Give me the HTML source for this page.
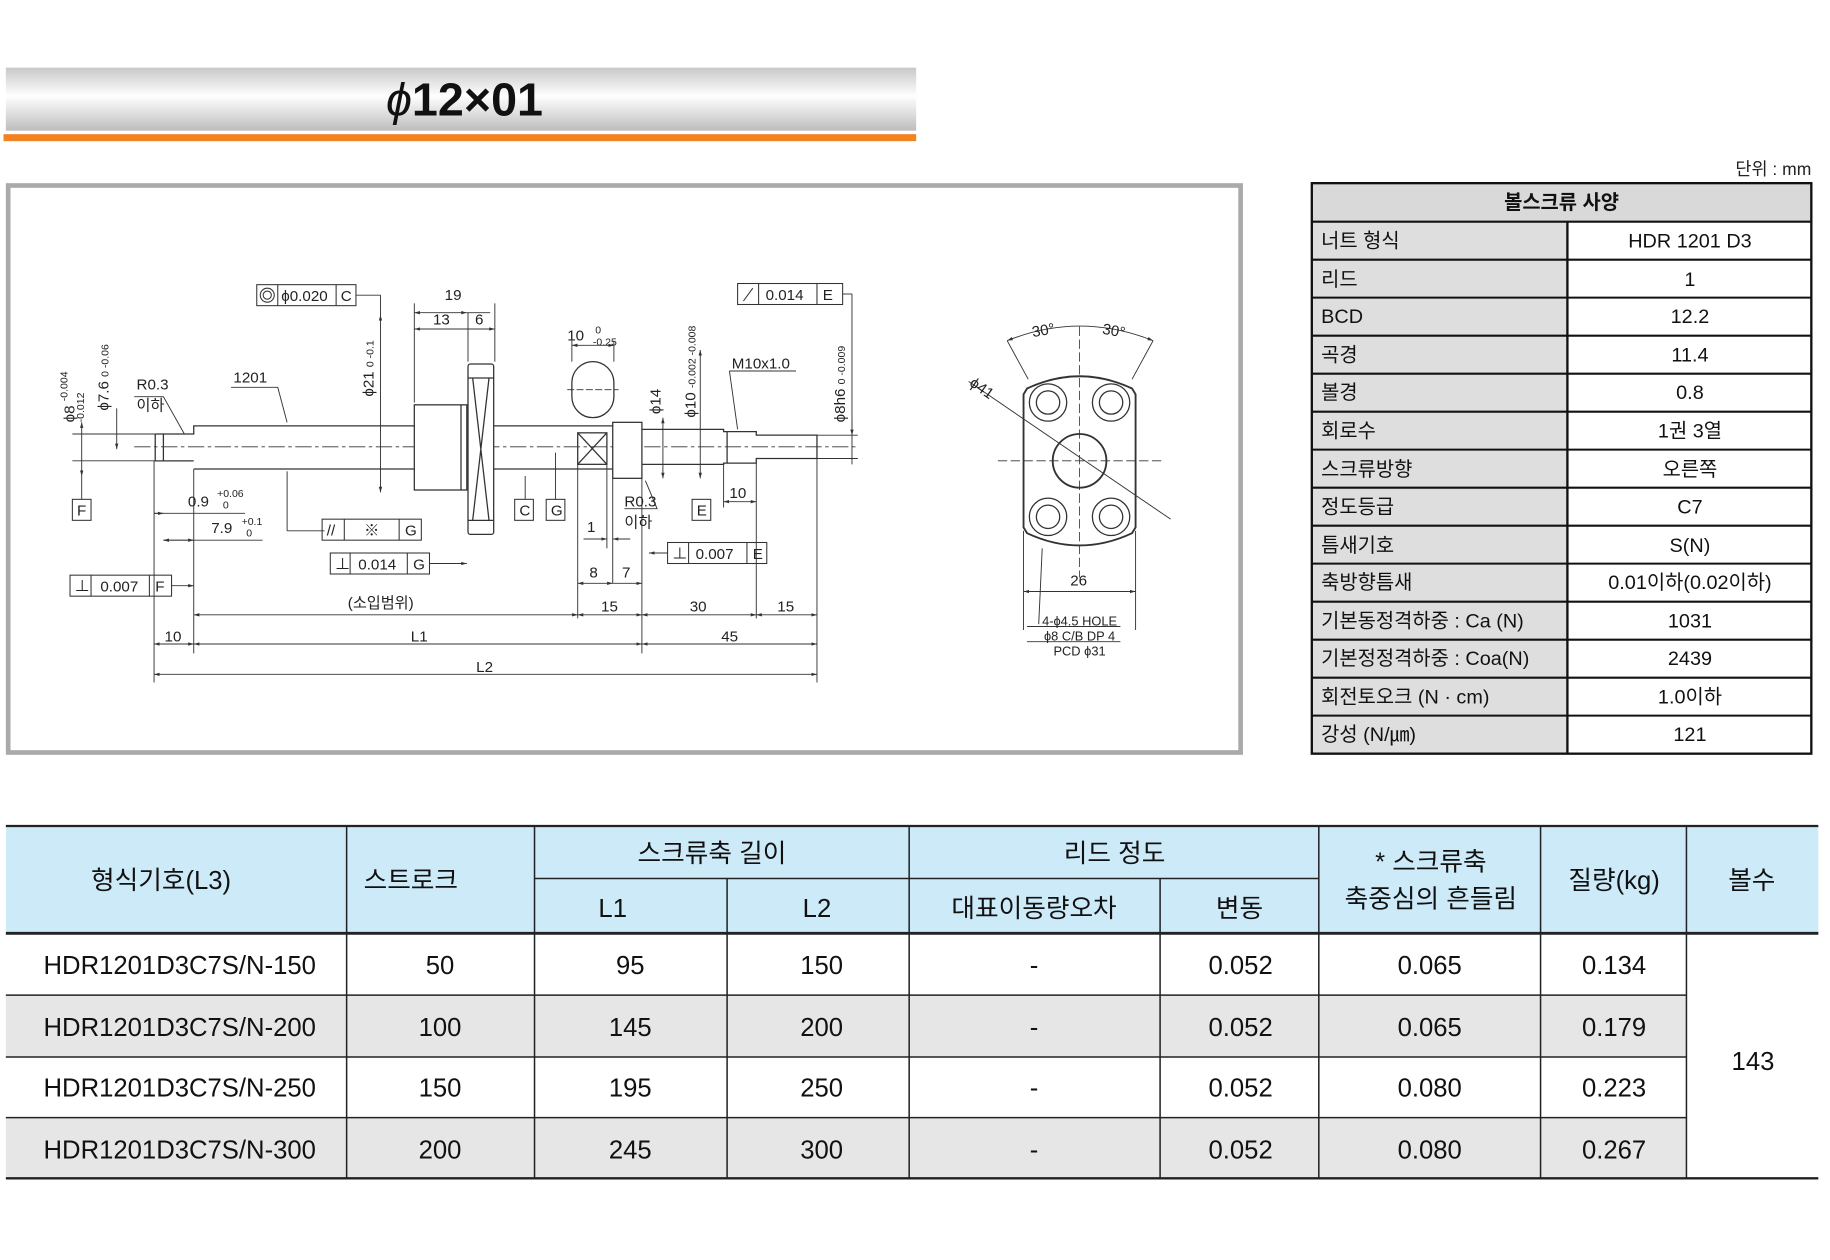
<!DOCTYPE html>
<html><head><meta charset="utf-8"><style>
html,body{margin:0;padding:0;background:#fff;}
svg{display:block;}
text{font-family:"Liberation Sans","Noto Sans CJK KR",sans-serif;}
</style></head><body>
<svg width="1830" height="1260" viewBox="0 0 1568 1080" preserveAspectRatio="none" xmlns="http://www.w3.org/2000/svg">
<defs>
<linearGradient id="tg" x1="0" y1="0" x2="0" y2="1">
<stop offset="0" stop-color="#c8c8c8"/><stop offset="0.45" stop-color="#ffffff"/><stop offset="1" stop-color="#bdbdbd"/>
</linearGradient>
<marker id="a" viewBox="0 0 10 10" refX="10" refY="5" markerWidth="6" markerHeight="6" orient="auto-start-reverse"><path d="M0,2 L10,5 L0,8z" fill="#333"/></marker>
</defs>
<!-- title -->
<rect x="5" y="58" width="780" height="54" fill="url(#tg)"/>
<rect x="3" y="115" width="782" height="6" fill="#f58220"/>
<text x="398" y="99" font-size="40" text-anchor="middle" fill="#111" font-weight="bold"><tspan font-style="italic" font-weight="normal">ϕ</tspan>12×01</text>
<text x="1552" y="150" font-size="15" text-anchor="end" fill="#222">단위 : mm</text>

<!-- drawing frame -->
<rect x="7" y="159" width="1056" height="486" fill="#fff" stroke="#aaa" stroke-width="4"/>

<g stroke="#333" stroke-width="1.1" fill="none">
<line x1="115" y1="383" x2="735" y2="383" stroke-dasharray="14,3,3,3" stroke-width="0.8"/>
<path d="M133,372 L166,372 L166,365 L355,365 M166,402 L355,402 M166,395 L133,395 L133,372" />
<line x1="140" y1="372" x2="140" y2="395"/>
<rect x="355" y="347" width="45" height="73" fill="#fff"/>
<line x1="395" y1="347" x2="395" y2="420"/>
<rect x="401" y="312" width="22" height="146" rx="2" fill="#fff"/>
<line x1="401" y1="324" x2="423" y2="324"/><line x1="401" y1="446" x2="423" y2="446"/>
<path d="M405,324 L419,446 M419,324 L405,446"/>
<path d="M423,365 L525,365 M423,402 L525,402"/>
<rect x="495" y="371" width="25" height="27"/>
<path d="M495,371 L520,398 M520,371 L495,398"/>
<rect x="525" y="362" width="25" height="48" fill="#fff"/>
<path d="M550,368 L620,368 L620,370 L648,370 L648,373 L700,373 L700,393 L648,393 L648,397 L620,397 L620,398 L550,398"/>
<line x1="623" y1="370" x2="623" y2="397"/>
<rect x="490" y="310" width="36" height="48" rx="18" fill="#fff"/>
<line x1="486" y1="334" x2="530" y2="334" stroke-dasharray="6,2" stroke-width="0.7"/>
<g stroke-width="0.8">
<line x1="355" y1="282" x2="424" y2="282" marker-start="url(#a)" marker-end="url(#a)"/>
<line x1="355" y1="260" x2="355" y2="345"/><line x1="424" y1="260" x2="424" y2="310"/>
<line x1="355" y1="268" x2="400" y2="268" marker-start="url(#a)" marker-end="url(#a)"/>
<line x1="400" y1="268" x2="420" y2="268"/><line x1="401" y1="268" x2="401" y2="310"/>
<line x1="326" y1="270" x2="326" y2="422" marker-start="url(#a)" marker-end="url(#a)"/>
<line x1="305" y1="253" x2="326" y2="253"/><line x1="326" y1="253" x2="326" y2="270"/>
<line x1="490" y1="296" x2="526" y2="296" marker-start="url(#a)" marker-end="url(#a)"/>
<line x1="490" y1="292" x2="490" y2="310"/><line x1="526" y1="292" x2="526" y2="310"/>
<line x1="568" y1="358" x2="568" y2="410" marker-start="url(#a)" marker-end="url(#a)"/>
<line x1="600" y1="300" x2="600" y2="410" marker-start="url(#a)" marker-end="url(#a)"/>
<line x1="722" y1="252" x2="730" y2="252"/><line x1="730" y1="252" x2="730" y2="398"/>
<line x1="700" y1="373" x2="735" y2="373"/><line x1="700" y1="393" x2="735" y2="393"/>
<line x1="730" y1="360" x2="730" y2="373" marker-end="url(#a)"/>
<path d="M625,318 L682,318 M625,318 L632,368"/>
<line x1="70" y1="362" x2="70" y2="408" marker-start="url(#a)" marker-end="url(#a)"/>
<line x1="62" y1="372" x2="133" y2="372"/><line x1="62" y1="395" x2="133" y2="395"/>
<line x1="70" y1="408" x2="70" y2="428"/>
<line x1="100" y1="350" x2="100" y2="385" marker-end="url(#a)"/>
<path d="M115,340 L140,340 L158,372"/>
<path d="M198,332 L238,332 L246,362"/>
<line x1="246" y1="404" x2="246" y2="455"/><line x1="246" y1="455" x2="278" y2="455"/>
<line x1="368" y1="483" x2="400" y2="483" marker-end="url(#a)"/>
<line x1="132" y1="440" x2="210" y2="440" /><line x1="132" y1="440" x2="140" y2="440" marker-end="url(#a)"/>
<line x1="140" y1="463" x2="225" y2="463"/><line x1="140" y1="463" x2="166" y2="463" marker-start="url(#a)" marker-end="url(#a)"/>
<line x1="132" y1="395" x2="132" y2="585"/><line x1="166" y1="402" x2="166" y2="560"/>
<line x1="147" y1="502" x2="166" y2="502" marker-end="url(#a)"/>
<line x1="700" y1="393" x2="700" y2="585"/>
<line x1="550" y1="410" x2="550" y2="560"/><line x1="495" y1="398" x2="495" y2="530"/>
<line x1="648" y1="397" x2="648" y2="530"/><line x1="520" y1="398" x2="520" y2="470"/><line x1="525" y1="410" x2="525" y2="500"/>
<line x1="166" y1="527" x2="495" y2="527" marker-start="url(#a)" marker-end="url(#a)"/>
<line x1="495" y1="527" x2="550" y2="527" marker-start="url(#a)" marker-end="url(#a)"/>
<line x1="550" y1="527" x2="648" y2="527" marker-start="url(#a)" marker-end="url(#a)"/>
<line x1="648" y1="527" x2="700" y2="527" marker-start="url(#a)" marker-end="url(#a)"/>
<line x1="132" y1="552" x2="166" y2="552" marker-start="url(#a)" marker-end="url(#a)"/>
<line x1="166" y1="552" x2="550" y2="552" marker-start="url(#a)" marker-end="url(#a)"/>
<line x1="550" y1="552" x2="700" y2="552" marker-start="url(#a)" marker-end="url(#a)"/>
<line x1="132" y1="578" x2="700" y2="578" marker-start="url(#a)" marker-end="url(#a)"/>
<line x1="495" y1="500" x2="525" y2="500" marker-start="url(#a)" marker-end="url(#a)"/>
<line x1="525" y1="500" x2="550" y2="500" marker-end="url(#a)"/>
<line x1="500" y1="462" x2="520" y2="462" marker-end="url(#a)"/><line x1="525" y1="462" x2="540" y2="462" marker-start="url(#a)"/>
<line x1="620" y1="430" x2="648" y2="430" marker-start="url(#a)" marker-end="url(#a)"/>
<line x1="620" y1="398" x2="620" y2="435"/>
<line x1="556" y1="474" x2="572" y2="474" marker-start="url(#a)"/>
<path d="M535,436 L563,436 L553,412"/>
<line x1="450" y1="408" x2="450" y2="428"/><line x1="476" y1="388" x2="476" y2="428"/>
</g>
<g stroke-width="0.9">
<rect x="220" y="244" width="85" height="18"/><line x1="238" y1="244" x2="238" y2="262"/><line x1="288" y1="244" x2="288" y2="262"/>
<circle cx="229" cy="253" r="6"/><circle cx="229" cy="253" r="3.5"/>
<rect x="632" y="243" width="90" height="18"/><line x1="650" y1="243" x2="650" y2="261"/><line x1="700" y1="243" x2="700" y2="261"/>
<line x1="637" y1="258" x2="645" y2="247"/>
<rect x="276" y="445" width="85" height="18"/><line x1="295" y1="445" x2="295" y2="463"/><line x1="342" y1="445" x2="342" y2="463"/>
<rect x="283" y="474" width="85" height="18"/><line x1="300" y1="474" x2="300" y2="492"/><line x1="349" y1="474" x2="349" y2="492"/>
<rect x="60" y="493" width="87" height="18"/><line x1="78" y1="493" x2="78" y2="511"/><line x1="128" y1="493" x2="128" y2="511"/>
<rect x="572" y="465" width="85" height="18"/><line x1="590" y1="465" x2="590" y2="483"/><line x1="640" y1="465" x2="640" y2="483"/>
<rect x="62" y="428" width="16" height="18"/><rect x="441" y="428" width="16" height="18"/><rect x="468" y="428" width="16" height="18"/><rect x="593" y="428" width="16" height="18"/>
</g>
<g transform="translate(925,395)">
<path d="M-45,-62 Q0,-83 45,-62 L48,-57 L48,57 L45,62 Q0,83 -45,62 L-48,57 L-48,-57 Z" stroke-width="1.6"/>
<circle r="23" stroke-width="1.6"/>
<circle cx="-27" cy="-50" r="16"/><circle cx="-27" cy="-50" r="10"/>
<circle cx="27" cy="-50" r="16"/><circle cx="27" cy="-50" r="10"/>
<circle cx="-27" cy="48" r="16"/><circle cx="-27" cy="48" r="10"/>
<circle cx="27" cy="48" r="16"/><circle cx="27" cy="48" r="10"/>
<line x1="0" y1="-115" x2="0" y2="100" stroke-dasharray="8,3" stroke-width="0.7"/>
<line x1="-70" y1="0" x2="70" y2="0" stroke-dasharray="8,3" stroke-width="0.7"/>
<line x1="-95" y1="-68" x2="78" y2="50" stroke-width="0.8"/>
<path d="M-62,-103 Q0,-128 63,-103" stroke-width="0.8" marker-start="url(#a)" marker-end="url(#a)"/>
<line x1="-62" y1="-103" x2="-44" y2="-70" stroke-width="0.8"/><line x1="63" y1="-103" x2="45" y2="-70" stroke-width="0.8"/>
<line x1="-48" y1="60" x2="-48" y2="145" stroke-width="0.8"/><line x1="48" y1="60" x2="48" y2="145" stroke-width="0.8"/>
<line x1="-48" y1="112" x2="48" y2="112" stroke-width="0.8" marker-start="url(#a)" marker-end="url(#a)"/>
<path d="M-35,140 L-32,75" stroke-width="0.8"/>
<line x1="-45" y1="142" x2="35" y2="142" stroke-width="0.8"/><line x1="-45" y1="155" x2="35" y2="155" stroke-width="0.8"/>
</g>
</g>
<g font-size="13" fill="#222">
<text x="241" y="258">ϕ0.020</text><text x="292" y="258">C</text>
<text x="656" y="257">0.014</text><text x="705" y="257">E</text>
<text x="381" y="257">19</text><text x="371" y="278">13</text><text x="407" y="278">6</text>
<text x="486" y="292">10</text><text x="510" y="286" font-size="9">0</text><text x="508" y="296" font-size="9">-0.25</text>
<text x="627" y="316">M10x1.0</text>
<text x="200" y="328">1201</text>
<text x="117" y="334">R0.3</text><text x="117" y="352">이하</text>
<text x="535" y="434">R0.3</text><text x="535" y="452">이하</text>
<text x="66" y="442">F</text><text x="445" y="442">C</text><text x="472" y="442">G</text><text x="597" y="442">E</text>
<text x="161" y="434">0.9</text><text x="186" y="426" font-size="9">+0.06</text><text x="191" y="436" font-size="9">0</text>
<text x="181" y="457">7.9</text><text x="207" y="450" font-size="9">+0.1</text><text x="211" y="460" font-size="9">0</text>
<text x="312" y="459">※</text><text x="347" y="459">G</text><text x="280" y="459">//</text>
<text x="287" y="488">⊥</text><text x="307" y="488">0.014</text><text x="354" y="488">G</text>
<text x="64" y="507">⊥</text><text x="86" y="507">0.007</text><text x="133" y="507">F</text>
<text x="576" y="479">⊥</text><text x="596" y="479">0.007</text><text x="645" y="479">E</text>
<text x="625" y="427">10</text><text x="503" y="456">1</text><text x="505" y="495">8</text><text x="533" y="495">7</text>
<text x="298" y="521">(소입범위)</text><text x="515" y="524">15</text><text x="591" y="524">30</text><text x="666" y="524">15</text>
<text x="141" y="550">10</text><text x="352" y="550">L1</text><text x="618" y="550">45</text><text x="408" y="576">L2</text>
<text x="917" y="502">26</text>
<text x="885" y="289" transform="rotate(-10 885 289)">30°</text><text x="944" y="286" transform="rotate(10 944 286)">30°</text>
<text x="830" y="330" transform="rotate(35 830 330)">ϕ41</text>
<text x="925" y="536" font-size="11" text-anchor="middle">4-ϕ4.5 HOLE</text>
<text x="925" y="549" font-size="11" text-anchor="middle">ϕ8 C/B DP 4</text>
<text x="925" y="562" font-size="11" text-anchor="middle">PCD ϕ31</text>
<text transform="translate(64,362) rotate(-90)">ϕ8 <tspan font-size="9" dy="-6">-0.004</tspan></text>
<text transform="translate(72,362) rotate(-90)" font-size="9">      -0.012</text>
<text transform="translate(93,352) rotate(-90)">ϕ7.6 <tspan font-size="9">0 -0.06</tspan></text>
<text transform="translate(320,340) rotate(-90)">ϕ21 <tspan font-size="9">0 -0.1</tspan></text>
<text transform="translate(566,355) rotate(-90)">ϕ14</text>
<text transform="translate(596,358) rotate(-90)">ϕ10 <tspan font-size="9">-0.002 -0.008</tspan></text>
<text transform="translate(724,362) rotate(-90)">ϕ8h6 <tspan font-size="9">0 -0.009</tspan></text>
</g>

<!-- spec table -->
<g font-size="17" fill="#111">
<rect x="1124" y="157" width="428" height="33" fill="#d9d9d9"/>
<rect x="1124" y="190" width="219" height="456" fill="#dedede"/>
<g stroke="#111" stroke-width="2" fill="none">
<rect x="1124" y="157" width="428" height="489"/>
<line x1="1343" y1="190" x2="1343" y2="646"/>
</g>
<g stroke="#111" stroke-width="1.8">
<line x1="1124" y1="190" x2="1552" y2="190"/><line x1="1124" y1="222.6" x2="1552" y2="222.6"/><line x1="1124" y1="255.1" x2="1552" y2="255.1"/><line x1="1124" y1="287.7" x2="1552" y2="287.7"/><line x1="1124" y1="320.3" x2="1552" y2="320.3"/><line x1="1124" y1="352.9" x2="1552" y2="352.9"/><line x1="1124" y1="385.4" x2="1552" y2="385.4"/><line x1="1124" y1="418" x2="1552" y2="418"/><line x1="1124" y1="450.6" x2="1552" y2="450.6"/><line x1="1124" y1="483.1" x2="1552" y2="483.1"/><line x1="1124" y1="515.7" x2="1552" y2="515.7"/><line x1="1124" y1="548.3" x2="1552" y2="548.3"/><line x1="1124" y1="580.9" x2="1552" y2="580.9"/><line x1="1124" y1="613.4" x2="1552" y2="613.4"/>
</g>
<text x="1338" y="179" text-anchor="middle" font-weight="bold">볼스크류 사양</text>
<g>
<text x="1132" y="212">너트 형식</text><text x="1448" y="212" text-anchor="middle">HDR 1201 D3</text>
<text x="1132" y="245">리드</text><text x="1448" y="245" text-anchor="middle">1</text>
<text x="1132" y="277">BCD</text><text x="1448" y="277" text-anchor="middle">12.2</text>
<text x="1132" y="310">곡경</text><text x="1448" y="310" text-anchor="middle">11.4</text>
<text x="1132" y="342">볼경</text><text x="1448" y="342" text-anchor="middle">0.8</text>
<text x="1132" y="375">회로수</text><text x="1448" y="375" text-anchor="middle">1권 3열</text>
<text x="1132" y="408">스크류방향</text><text x="1448" y="408" text-anchor="middle">오른쪽</text>
<text x="1132" y="440">정도등급</text><text x="1448" y="440" text-anchor="middle">C7</text>
<text x="1132" y="473">틈새기호</text><text x="1448" y="473" text-anchor="middle">S(N)</text>
<text x="1132" y="505">축방향틈새</text><text x="1448" y="505" text-anchor="middle">0.01이하(0.02이하)</text>
<text x="1132" y="538">기본동정격하중 : Ca (N)</text><text x="1448" y="538" text-anchor="middle">1031</text>
<text x="1132" y="570">기본정정격하중 : Coa(N)</text><text x="1448" y="570" text-anchor="middle">2439</text>
<text x="1132" y="603">회전토오크 (N · cm)</text><text x="1448" y="603" text-anchor="middle">1.0이하</text>
<text x="1132" y="635">강성 (N/㎛)</text><text x="1448" y="635" text-anchor="middle">121</text>
</g>
</g>

<!-- bottom table -->
<rect x="5" y="708" width="1553" height="92" fill="#cdeaf8"/>
<rect x="5" y="853" width="1440" height="53" fill="#e6e6e6"/>
<rect x="5" y="958" width="1440" height="52" fill="#e6e6e6"/>
<g stroke="#222" stroke-width="1.3">
<line x1="5" y1="708" x2="1558" y2="708" stroke-width="2"/>
<line x1="5" y1="800" x2="1558" y2="800" stroke-width="2.5"/>
<line x1="458" y1="753" x2="1130" y2="753"/>
<line x1="5" y1="853" x2="1445" y2="853"/><line x1="5" y1="906" x2="1445" y2="906"/><line x1="5" y1="958" x2="1445" y2="958"/>
<line x1="5" y1="1010" x2="1558" y2="1010" stroke-width="2"/>
<line x1="297" y1="708" x2="297" y2="1010"/><line x1="458" y1="708" x2="458" y2="1010"/><line x1="623" y1="753" x2="623" y2="1010"/>
<line x1="779" y1="708" x2="779" y2="1010"/><line x1="994" y1="753" x2="994" y2="1010"/><line x1="1130" y1="708" x2="1130" y2="1010"/>
<line x1="1320" y1="708" x2="1320" y2="1010"/><line x1="1445" y1="708" x2="1445" y2="1010"/>
</g>
<g font-size="22" fill="#111" text-anchor="middle">
<text x="138" y="762">형식기호(L3)</text><text x="352" y="762">스트로크</text>
<text x="610" y="739">스크류축 길이</text><text x="955" y="739">리드 정도</text>
<text x="525" y="786">L1</text><text x="700" y="786">L2</text><text x="886" y="786">대표이동량오차</text><text x="1062" y="786">변동</text>
<text x="1226" y="746">* 스크류축</text><text x="1226" y="778">축중심의 흔들림</text>
<text x="1383" y="762">질량(kg)</text><text x="1501" y="762">볼수</text>
<text x="154" y="835">HDR1201D3C7S/N-150</text><text x="377" y="835">50</text><text x="540" y="835">95</text><text x="704" y="835">150</text><text x="886" y="835">-</text><text x="1063" y="835">0.052</text><text x="1225" y="835">0.065</text><text x="1383" y="835">0.134</text>
<text x="154" y="888">HDR1201D3C7S/N-200</text><text x="377" y="888">100</text><text x="540" y="888">145</text><text x="704" y="888">200</text><text x="886" y="888">-</text><text x="1063" y="888">0.052</text><text x="1225" y="888">0.065</text><text x="1383" y="888">0.179</text>
<text x="154" y="940">HDR1201D3C7S/N-250</text><text x="377" y="940">150</text><text x="540" y="940">195</text><text x="704" y="940">250</text><text x="886" y="940">-</text><text x="1063" y="940">0.052</text><text x="1225" y="940">0.080</text><text x="1383" y="940">0.223</text>
<text x="154" y="993">HDR1201D3C7S/N-300</text><text x="377" y="993">200</text><text x="540" y="993">245</text><text x="704" y="993">300</text><text x="886" y="993">-</text><text x="1063" y="993">0.052</text><text x="1225" y="993">0.080</text><text x="1383" y="993">0.267</text>
<text x="1502" y="917">143</text>
</g>
</svg>
</body></html>
